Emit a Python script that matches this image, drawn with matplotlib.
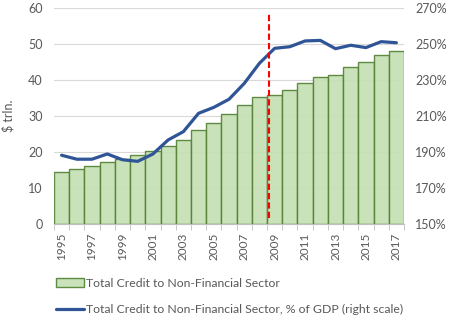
import matplotlib
matplotlib.use("Agg")
import matplotlib.pyplot as plt
import numpy as np

plt.rcParams['font.family'] = ['Lato', 'DejaVu Sans']

years = list(range(1995, 2018))
credit_trln = [14.4, 15.2, 16.0, 17.1, 18.0, 19.1, 20.2, 21.6, 23.2, 26.0, 28.0, 30.5,
               33.0, 35.2, 35.7, 37.2, 39.1, 40.7, 41.3, 43.5, 45.0, 46.9, 48.0]
credit_pct_gdp = [188.2, 186.0, 186.0, 188.9, 185.7, 184.8, 188.9, 196.7, 201.3, 211.5, 214.8, 219.3,
                  228.1, 239.3, 247.6, 248.5, 251.7, 252.0, 247.4, 249.3, 248.0, 251.3, 250.7]
event_year = 2008.66
left_ticks = [0, 10, 20, 30, 40, 50, 60]
right_ticks = [150, 170, 190, 210, 230, 250, 270]
label_bars = "Total Credit to Non-Financial Sector"
label_line = "Total Credit to Non-Financial Sector, % of GDP (right scale)"
ylabel = "$ trln."

txt = '#595959'
fig = plt.figure(figsize=(4.51, 3.26), dpi=100)
ax = fig.add_axes([54/451, 1-224/326, 350/451, 216/326])
ax2 = ax.twinx()

x = np.array(years)
bars = ax.bar(x, credit_trln, width=1.0, facecolor='#C5E0B4', edgecolor='#548235',
              linewidth=1.0, zorder=2, alpha=0.92, label=label_bars)
ax.set_ylim(0, 60)
ax.set_yticks(left_ticks)
ax.set_xlim(years[0]-0.5, years[-1]+0.5)
ax.grid(axis='y', color='#D9D9D9', linewidth=0.8, zorder=0)
ax.set_axisbelow(True)
for s in ['top', 'right', 'left']:
    ax.spines[s].set_visible(False)
ax.spines['bottom'].set_color('#BFBFBF')
ax.tick_params(axis='y', length=0, colors=txt, labelsize=9, pad=8)
ax.set_xticks(years[::2])
ax.set_xticks(np.arange(years[0]-0.5, years[-1]+1, 1.0), minor=True)
ax.tick_params(axis='x', which='major', length=0, labelrotation=90, colors=txt, labelsize=8.5, pad=6)
ax.tick_params(axis='x', which='minor', length=4, color='#BFBFBF')
ax.set_ylabel(ylabel, color=txt, fontsize=9, labelpad=10)

line, = ax2.plot(x, credit_pct_gdp, color='#2F5597', linewidth=2.3, zorder=4,
                 solid_capstyle='round', label=label_line)
ax2.set_ylim(150, 270)
ax2.set_yticks(right_ticks)
ax2.set_yticklabels([f"{t}%" for t in right_ticks])
for s in ['top', 'right', 'left', 'bottom']:
    ax2.spines[s].set_visible(False)
ax2.tick_params(axis='y', length=0, colors=txt, labelsize=9, pad=8)
ax2.axvline(event_year, ymin=0.028, ymax=0.972, color='#FF0000', linewidth=1.5,
            linestyle=(0, (3, 1.5)), zorder=5)

fig.legend([bars, line], [label_bars, label_line], loc='upper left',
           bbox_to_anchor=(51/451, 1-273/326), ncol=1, frameon=False,
           fontsize=8.8, labelcolor=txt, handlelength=2.3, handletextpad=0.2,
           labelspacing=1.25, borderaxespad=0)

fig.savefig('out.png', dpi=100)
